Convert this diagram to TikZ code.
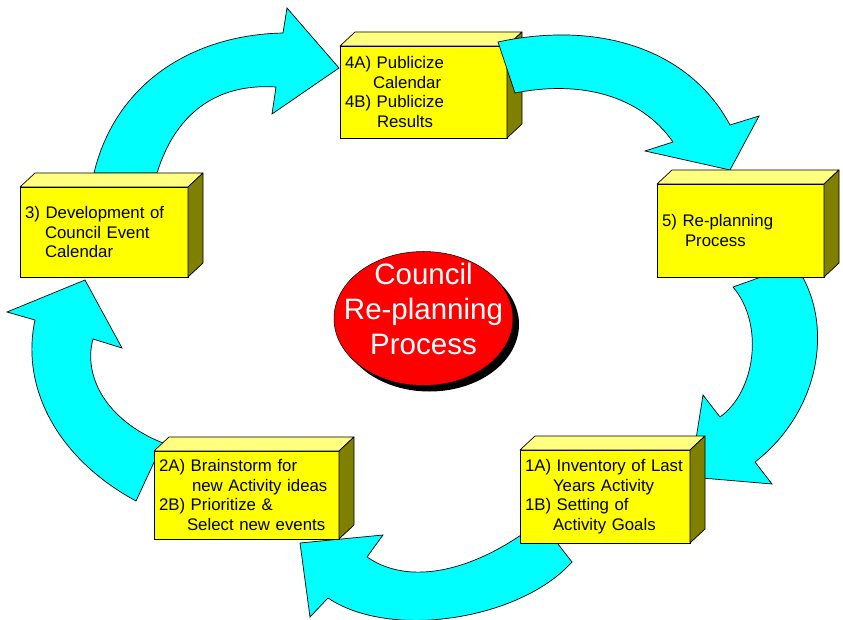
\documentclass[tikz,border=0pt]{standalone}
\usepackage{fontspec}
\setmainfont{Liberation Sans}
\usetikzlibrary{shapes.geometric,shadows}
\definecolor{arrowcyan}{RGB}{0,255,255}
\definecolor{frontyellow}{RGB}{255,255,0}
\definecolor{topyellow}{RGB}{255,255,128}
\definecolor{sideolive}{RGB}{128,128,0}
\definecolor{hubred}{RGB}{255,0,0}
\newcommand\cubefaces[1]{%
  \draw[topface] (#1.north west) -- ++(15,-14) -- ([shift={(15,-14)}]#1.north east) -- (#1.north east) -- cycle;
  \draw[sideface] (#1.north east) -- ++(15,-14) -- ([shift={(15,-14)}]#1.south east) -- (#1.south east) -- cycle;}
\begin{document}
\begin{tikzpicture}[x=1pt,y=-1pt,
  blockarrow/.style={draw=black, fill=arrowcyan, line width=0.7pt, line join=miter},
  front/.style={draw=black, fill=frontyellow, line width=0.7pt, inner xsep=5pt, inner ysep=0pt,
    outer sep=0pt, align=left, font=\fontsize{16.8}{19.5}\selectfont},
  topface/.style={draw=black, fill=topyellow, line width=0.7pt, line join=round},
  sideface/.style={draw=black, fill=sideolive, line width=0.7pt, line join=round},
  hubstyle/.style={ellipse, draw=black, line width=0.5pt, fill=hubred, inner sep=0pt,
    general shadow={fill=black, shadow xshift=6pt, shadow yshift=-6pt}},
  hubtext/.style={text=white, align=center, font=\fontsize{29.5}{35}\selectfont}]
\useasboundingbox (0,0) rectangle (843,620);
\clip (0,0) rectangle (843,620);

% arrows lying under the boxes
\draw[blockarrow] (94,173) .. controls (115,85) and (190,35) .. (283,33) -- (287,8) -- (339,68)
  -- (272,114) -- (276,87) .. controls (215,83) and (175,115) .. (157,173) -- cycle;
\draw[blockarrow] (795,265) .. controls (835,320) and (822,410) .. (755,462) -- (772,484) -- (690,477)
  -- (703,395) -- (720,417) .. controls (755,392) and (765,325) .. (733,287) -- cycle;
\draw[blockarrow] (572,562) -- (540,521) .. controls (485,565) and (415,590) .. (367,557) -- (383,535)
  -- (300,543) -- (310,617) -- (328,598) .. controls (390,640) and (520,620) .. (572,562) -- cycle;
\draw[blockarrow] (163,443) -- (136,501) .. controls (60,460) and (20,390) .. (35,320) -- (7,312)
  -- (85,280) -- (122,348) -- (93,339) .. controls (83,375) and (105,420) .. (163,443) -- cycle;

% box 4
\node[front, minimum width=167pt, minimum height=92pt, text width=157pt] (b4) at (423.5,92)
  {4A) Publicize\\\hspace*{28pt}Calendar\\4B) Publicize\\\hspace*{32pt}Results};
\cubefaces{b4}

% arrow 4 -> 5 lies over box 4
\draw[blockarrow] (498,42) .. controls (600,20) and (690,50) .. (730,125) -- (759,116) -- (730,170)
  -- (645,151) -- (673,142) .. controls (640,95) and (580,80) .. (515,93) -- cycle;

% box 5
\node[front, minimum width=167pt, minimum height=93pt, text width=157pt] (b5) at (740.5,230.5)
  {5) Re-planning\\\hspace*{23pt}Process};
\cubefaces{b5}

% box 1
\node[front, minimum width=170pt, minimum height=93pt, text width=160pt] (b1) at (605,496.5)
  {1A) Inventory of Last\\\hspace*{28pt}Years Activity\\1B) Setting of\\\hspace*{28pt}Activity Goals};
\cubefaces{b1}

% box 2
\node[front, minimum width=185pt, minimum height=88pt, text width=175pt] (b2) at (246.5,495)
  {2A) Brainstorm for\\\hspace*{33pt}new Activity ideas\\2B) Prioritize \&\\\hspace*{28pt}Select new events};
\cubefaces{b2}

% box 3
\node[front, minimum width=168pt, minimum height=90pt, text width=158pt] (b3) at (104,232)
  {3) Development of\\\hspace*{20pt}Council Event\\\hspace*{20pt}Calendar};
\cubefaces{b3}

% hub
\node[hubstyle, minimum width=179pt, minimum height=134pt] (hub) at (423.5,318.5) {};
\node[hubtext] (hubtxt) at ([yshift=10pt]hub.center) {Council\\Re-planning\\Process};
\end{tikzpicture}
\end{document}
